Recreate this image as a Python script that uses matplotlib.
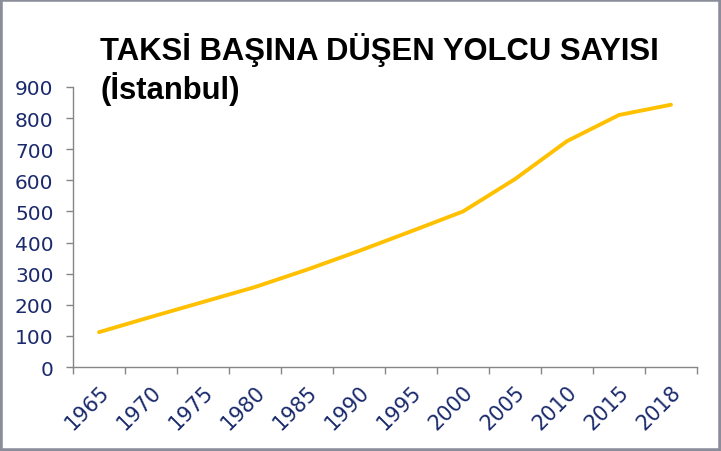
import matplotlib
matplotlib.use('Agg')
import matplotlib.pyplot as plt
from matplotlib.patches import Rectangle

# İstanbul - taksi başına düşen yolcu
years = ['1965', '1970', '1975', '1980', '1985', '1990',
         '1995', '2000', '2005', '2010', '2015', '2018']
passengers = [112, 161, 209, 257, 313, 373, 436, 500, 604, 726, 810, 843]
yticks = [0, 100, 200, 300, 400, 500, 600, 700, 800, 900]

navy = '#1a2a6c'
axis_gray = '#868686'

fig = plt.figure(figsize=(7.21, 4.52), dpi=100)
ax = fig.add_axes([73/721, 1-368/452, 624/721, 280/452])

x = list(range(len(years)))
ax.plot(x, passengers, color='#FFC000', lw=2.8, solid_capstyle='round')

ax.set_xlim(-0.5, len(years) - 0.5)
ax.set_ylim(0, 900)
ax.set_yticks(yticks)
ax.set_yticklabels([str(v) for v in yticks])

# category axis: tick marks between categories, labels in the middle
ax.set_xticks(x)
ax.set_xticklabels(years, rotation=45, ha='right', va='top', rotation_mode='anchor')
ax.set_xticks([i - 0.5 for i in range(len(years) + 1)], minor=True)
ax.tick_params(axis='x', which='major', length=0, pad=10, labelsize=15)
ax.tick_params(axis='x', which='minor', length=5, width=1, color=axis_gray, direction='out')
ax.tick_params(axis='y', length=5, width=1, color=axis_gray, direction='out', pad=9,
               labelsize=14.5)
ax.tick_params(labelcolor=navy)

for s in ['top', 'right']:
    ax.spines[s].set_visible(False)
for s in ['left', 'bottom']:
    ax.spines[s].set_color(axis_gray)
    ax.spines[s].set_linewidth(1)

fig.text(100/721, 1-33/452, 'TAKSİ BAŞINA DÜŞEN YOLCU SAYISI\n(İstanbul)',
         ha='left', va='top', fontsize=22.3, fontweight='bold',
         family='Liberation Sans', linespacing=1.17, color='black')

fig.patches.append(Rectangle((0, 0), 1, 1, transform=fig.transFigure,
                             fill=False, lw=4, ec='#8b8d9b'))

fig.savefig('out.png', dpi=100)
